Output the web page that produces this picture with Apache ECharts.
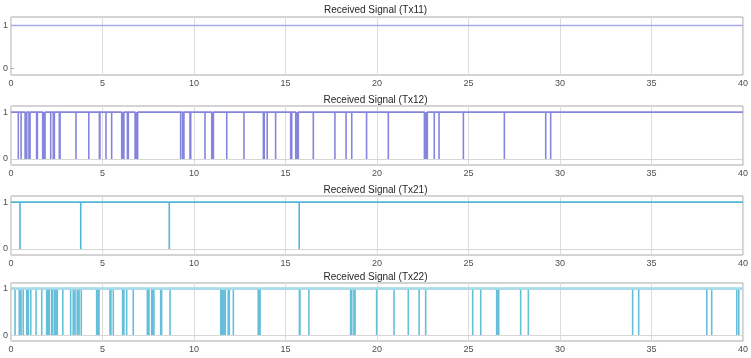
<!DOCTYPE html>
<html style="height: 100%">
    <head>
        <meta charset="utf-8">
    </head>
    <body style="height: 100%; margin: 0; background: #fff">
        <div id="container" style="height: 358px; width: 751px;"></div>
        <script type="text/javascript" src="https://cdn.jsdelivr.net/npm/echarts@6/dist/echarts.min.js"></script>
        <script type="text/javascript">
var dom = document.getElementById("container");
var myChart = echarts.init(dom);

// plot titles
const titles = ['Received Signal (Tx11)', 'Received Signal (Tx12)', 'Received Signal (Tx21)', 'Received Signal (Tx22)'];
const xTicks = [0, 5, 10, 15, 20, 25, 30, 35, 40];
const yTicks = [0, 1];

// times (s) where the signal drops to 0
const dipsTx11 = [];
const dipsTx12 = [0.40, 0.55, 0.77, 0.86, 0.98, 1.04, 1.40, 1.44, 1.73, 1.79, 1.86, 2.17, 2.31, 2.37,
    2.64, 2.68, 3.55, 4.25, 4.83, 4.86, 5.19, 5.50, 6.05, 6.10, 6.17, 6.36, 6.41, 6.78, 6.87, 6.92,
    9.27, 9.38, 9.45, 9.78, 9.82, 10.60, 10.97, 11.06, 11.79, 12.73, 13.79, 13.84, 14.00, 14.46,
    15.28, 15.34, 15.56, 15.61, 15.67, 15.70, 16.52, 17.70, 18.31, 18.62, 19.43, 20.62, 22.59,
    22.64, 22.70, 22.75, 23.13, 23.39, 24.72, 26.96, 29.22, 29.49];
const dipsTx21 = [0.49, 3.81, 8.65, 15.75];
const dipsTx22 = [0.22, 0.45, 0.55, 0.67, 0.86, 0.95, 1.08, 1.37, 1.68, 1.95, 2.04, 2.09, 2.22, 2.26,
    2.37, 2.42, 2.50, 2.53, 2.83, 3.26, 3.40, 3.50, 3.62, 3.72, 3.84, 4.68, 4.74, 4.81, 5.41, 5.46,
    5.59, 6.10, 6.17, 6.32, 6.68, 7.45, 7.54, 7.69, 7.74, 7.81, 8.18, 8.23, 8.69, 11.46, 11.51,
    11.57, 11.64, 11.71, 11.87, 11.93, 12.15, 13.51, 13.57, 13.61, 15.76, 15.79, 16.28, 18.56,
    18.62, 18.74, 18.80, 19.98, 20.93, 21.71, 22.30, 22.66, 25.23, 25.67, 26.54, 26.60, 26.65,
    27.85, 28.27, 33.97, 34.30, 38.02, 38.29, 39.66, 39.77];

const allDips = [dipsTx11, dipsTx12, dipsTx21, dipsTx22];
const colors = ['#a9a9ea', '#8585de', '#52b6d8', '#66bfd9'];
const topColors = ['#a9a9ea', '#8585de', '#52b6d8', '#a9dbea'];

// layout of the four panels
const tops = [17, 106, 196, 283];
const heights = [58, 59, 59, 58];
const yMins = [-0.16, -0.13, -0.13, -0.12];
const yMaxs = [1.2, 1.13, 1.13, 1.12];
const titleY = [5, 95, 185, 272];

function signal(dips) {
    var pts = [[0, 1]];
    dips.forEach(function (t) {
        pts.push([t, 1], [t, 0], [t, 1]);
    });
    pts.push([40, 1]);
    return pts;
}

var grids = [], xAxes = [], yAxes = [], series = [], titleList = [];
for (let i = 0; i < 4; i++) {
    titleList.push({
        text: titles[i],
        left: 'center',
        top: titleY[i],
        padding: 0,
        textStyle: { fontSize: 10, fontWeight: 'normal', color: '#262626', fontFamily: 'Liberation Sans' }
    });
    grids.push({
        left: 11, right: 8, top: tops[i], height: heights[i],
        show: true, borderColor: '#a8a8a8', borderWidth: 1
    });
    xAxes.push({
        gridIndex: i, type: 'value', min: 0, max: 40, interval: 5,
        axisLine: { show: false },
        axisTick: { show: false },
        axisLabel: {
            color: '#4d4d4d', fontSize: 9, margin: 4, fontFamily: 'Liberation Sans',
            customValues: xTicks
        },
        splitLine: { show: true, lineStyle: { color: '#dcdcdc', width: 1 } }
    });
    yAxes.push({
        gridIndex: i, type: 'value', min: yMins[i], max: yMaxs[i],
        axisLine: { show: false },
        axisTick: { show: true, inside: true, length: 3, lineStyle: { color: '#a8a8a8' }, customValues: yTicks },
        axisLabel: {
            color: '#4d4d4d', fontSize: 9, margin: 3, fontFamily: 'Liberation Sans',
            customValues: yTicks
        },
        splitLine: { show: false }
    });
    var markData = [];
    if (i > 0) markData.push({ yAxis: 0, lineStyle: { color: '#d6d6d6', width: 1, type: 'solid' } });
    if (i === 3) markData.push({ yAxis: 1, lineStyle: { color: topColors[i], width: 2.5, type: 'solid' } });
    series.push({
        type: 'line',
        xAxisIndex: i,
        yAxisIndex: i,
        data: signal(allDips[i]),
        showSymbol: false,
        symbol: 'none',
        lineStyle: { color: colors[i], width: 1.6 },
        z: 3,
        markLine: {
            silent: true, symbol: 'none', label: { show: false },
            animation: false,
            data: markData
        }
    });
}

var option = {
    animation: false,
    backgroundColor: '#fff',
    title: titleList,
    grid: grids,
    xAxis: xAxes,
    yAxis: yAxes,
    series: series
};
myChart.setOption(option);
        </script>
    </body>
</html>
